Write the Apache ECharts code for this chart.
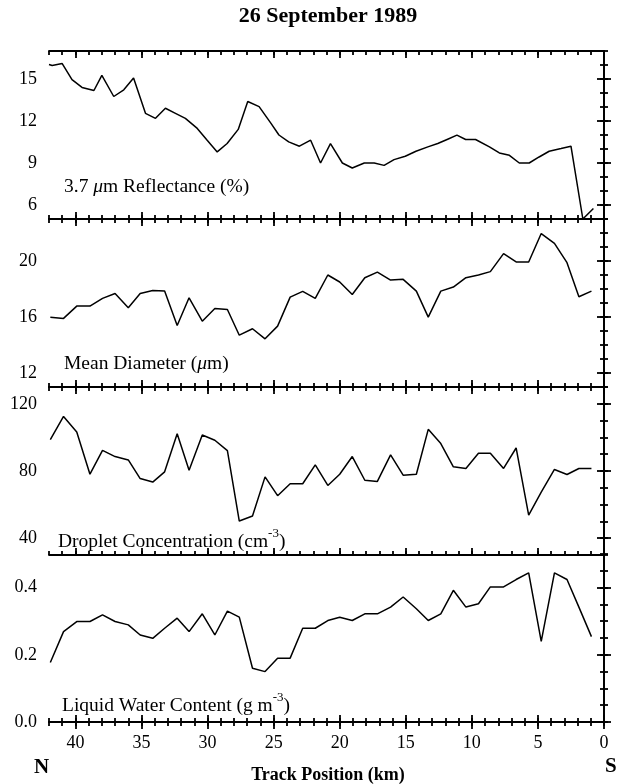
<!DOCTYPE html>
<html>
<head>
<meta charset="utf-8">
<script src="https://cdn.jsdelivr.net/npm/echarts@6/dist/echarts.min.js"></script>
<style>
html,body{margin:0;padding:0;background:#fff;}
#chart{width:625px;height:784px;}
</style>
</head>
<body>
<div id="chart"></div>
<script>
// ---- Data ----
const titleText = '26 September 1989';
const xAxisTitle = 'Track Position (km)';
const xTickValues = [40, 35, 30, 25, 20, 15, 10, 5, 0];

// 3.7 um reflectance track (radiometer sampling)
const reflKm = [42.0, 41.76, 41.0, 40.26, 39.5, 38.6, 38.0, 37.1, 36.34, 35.6, 34.7, 33.94, 33.19, 32.43, 31.68, 30.78, 30.03, 29.27, 28.52, 27.68, 26.96, 26.1, 25.2, 24.6, 23.86, 23.05, 22.2, 21.45, 20.7, 19.8, 19.05, 18.14, 17.39, 16.64, 15.89, 15.04, 14.23, 13.33, 12.58, 11.83, 11.13, 10.47, 9.72, 8.67, 7.92, 7.16, 6.41, 5.66, 4.91, 4.15, 3.25, 2.5, 1.6, 0.8];
const reflVal = [16.03, 15.96, 16.1, 14.95, 14.4, 14.18, 15.26, 13.75, 14.23, 15.07, 12.55, 12.19, 12.91, 12.55, 12.19, 11.47, 10.63, 9.79, 10.39, 11.4, 13.39, 13.03, 11.83, 11.0, 10.51, 10.2, 10.63, 9.0, 10.39, 9.0, 8.64, 9.0, 9.0, 8.83, 9.24, 9.48, 9.84, 10.15, 10.39, 10.7, 10.99, 10.68, 10.68, 10.15, 9.72, 9.55, 9.0, 9.0, 9.43, 9.84, 10.03, 10.2, 5.0, 5.75];

// in situ probe track
const probeKm = [41.9, 40.9, 39.9, 38.9, 37.95, 37.0, 36.0, 35.1, 34.15, 33.25, 32.3, 31.4, 30.4, 29.45, 28.5, 27.6, 26.6, 25.65, 24.7, 23.75, 22.8, 21.85, 20.9, 20.0, 19.05, 18.1, 17.15, 16.15, 15.2, 14.2, 13.3, 12.35, 11.4, 10.45, 9.5, 8.6, 7.6, 6.65, 5.7, 4.75, 3.75, 2.8, 1.9, 0.95];
const diamVal = [15.99, 15.9, 16.78, 16.78, 17.33, 17.68, 16.66, 17.68, 17.9, 17.85, 15.39, 17.37, 15.7, 16.61, 16.54, 14.7, 15.16, 14.44, 15.35, 17.42, 17.83, 17.33, 19.0, 18.5, 17.61, 18.8, 19.21, 18.64, 18.69, 17.85, 15.99, 17.85, 18.14, 18.81, 19.0, 19.24, 20.53, 19.93, 19.93, 21.96, 21.26, 19.88, 17.45, 17.85];
const concVal = [98.7, 112.5, 103.2, 78.1, 92.3, 88.6, 86.6, 75.5, 73.4, 79.5, 102.2, 80.5, 101.4, 98.3, 92.1, 50.2, 53.2, 76.5, 65.3, 72.4, 72.4, 83.6, 71.4, 78.1, 88.6, 74.5, 73.8, 89.6, 77.5, 78.1, 104.8, 96.3, 82.5, 81.5, 90.6, 90.6, 81.5, 93.7, 53.8, 67.4, 80.9, 77.9, 81.5, 81.5];
const lwcVal = [0.177, 0.269, 0.299, 0.299, 0.319, 0.299, 0.289, 0.259, 0.249, 0.279, 0.309, 0.269, 0.322, 0.259, 0.33, 0.312, 0.16, 0.15, 0.19, 0.19, 0.279, 0.279, 0.302, 0.312, 0.302, 0.322, 0.322, 0.342, 0.372, 0.337, 0.302, 0.322, 0.392, 0.342, 0.352, 0.402, 0.402, 0.424, 0.444, 0.24, 0.444, 0.424, 0.342, 0.254];

const reflTicks = [6, 9, 12, 15];
const diamTicks = [12, 16, 20];
const concTicks = [40, 80, 120];
const lwcTicks = [0, 0.2, 0.4];

// ---- Layout ----
const FONT = 'Liberation Serif';
const GL = 49, GR = 21, GH = 168;
const tops = [51, 219, 387, 554];
const CX = 328;
const panels = [
  {xs: reflKm, ys: reflVal, min: 5, max: 17, major: reflTicks, step: 1, dec: 0,
   label: [{t: '3.7 ', s: 'a'}, {t: 'μ', s: 'i'}, {t: 'm Reflectance (%)', s: 'a'}], ly: 189},
  {xs: probeKm, ys: diamVal, min: 11, max: 23, major: diamTicks, step: 1, dec: 0,
   label: [{t: 'Mean Diameter (', s: 'a'}, {t: 'μ', s: 'i'}, {t: 'm)', s: 'a'}], ly: 366},
  {xs: probeKm, ys: concVal, min: 30, max: 130, major: concTicks, step: 10, dec: 0,
   label: [{t: 'Droplet Concentration (cm', s: 'a'}, {t: '-3', s: 's'}, {t: ')', s: 'a'}], ly: 539, lx: 58},
  {xs: probeKm, ys: lwcVal, min: 0, max: 0.5, major: lwcTicks, step: 0.05, dec: 1,
   label: [{t: 'Liquid Water Content (g m', s: 'a'}, {t: '-3', s: 's'}, {t: ')', s: 'a'}], ly: 703, lx: 62}
];

function range(a, b, s) {
  const out = []; const n = Math.round((b - a) / s);
  for (let i = 0; i <= n; i++) out.push(+(a + i * s).toFixed(4));
  return out;
}
const xMinor = range(0, 42, 1);

const lineStyle = {color: '#000', width: 1.8};
const grids = [], xAxes = [], yAxes = [], series = [], graphics = [];

panels.forEach((p, i) => {
  grids.push({left: GL, right: GR, top: tops[i], height: GH, outerBoundsMode: 'none', containLabel: false});
  const xBase = {type: 'value', gridIndex: i, min: 0, max: 42, inverse: true, splitLine: {show: false}};
  xAxes.push(Object.assign({}, xBase, {
    position: 'bottom',
    axisLine: {show: true, lineStyle},
    axisTick: {show: true, inside: true, length: 7, customValues: xTickValues, lineStyle},
    axisLabel: {show: i === 3, customValues: xTickValues, margin: 12, color: '#000', fontFamily: FONT, fontSize: 18}
  }));
  xAxes.push(Object.assign({}, xBase, {
    position: 'bottom',
    axisLine: {show: false},
    axisTick: {show: true, inside: true, length: 4, customValues: xMinor, lineStyle},
    axisLabel: {show: false}
  }));
  xAxes.push(Object.assign({}, xBase, {
    position: 'top',
    axisLine: {show: true, lineStyle},
    axisTick: {show: true, inside: true, length: 7, customValues: xTickValues, lineStyle},
    axisLabel: {show: false}
  }));
  xAxes.push(Object.assign({}, xBase, {
    position: 'top',
    axisLine: {show: false},
    axisTick: {show: true, inside: true, length: 4, customValues: xMinor, lineStyle},
    axisLabel: {show: false}
  }));

  const minorY = range(p.min, p.max, p.step);
  const yBase = {type: 'value', gridIndex: i, min: p.min, max: p.max, splitLine: {show: false}};
  yAxes.push(Object.assign({}, yBase, {
    position: 'left',
    axisLine: {show: true, lineStyle},
    axisTick: {show: true, inside: true, length: 7, customValues: p.major, lineStyle},
    axisLabel: {show: true, customValues: p.major, margin: 12, color: '#000', fontFamily: FONT, fontSize: 18,
      formatter: v => Number(v).toFixed(p.dec)}
  }));
  yAxes.push(Object.assign({}, yBase, {
    position: 'left',
    axisLine: {show: false},
    axisTick: {show: true, inside: true, length: 4, customValues: minorY, lineStyle},
    axisLabel: {show: false}
  }));
  yAxes.push(Object.assign({}, yBase, {
    position: 'right',
    axisLine: {show: true, lineStyle},
    axisTick: {show: true, inside: true, length: 7, customValues: p.major, lineStyle},
    axisLabel: {show: false}
  }));
  yAxes.push(Object.assign({}, yBase, {
    position: 'right',
    axisLine: {show: false},
    axisTick: {show: true, inside: true, length: 4, customValues: minorY, lineStyle},
    axisLabel: {show: false}
  }));

  series.push({
    type: 'line', xAxisIndex: 4 * i, yAxisIndex: 4 * i,
    data: p.xs.map((x, k) => [x, p.ys[k]]),
    showSymbol: false, symbol: 'none', animation: false, clip: true,
    lineStyle: {color: '#000', width: 1.5}
  });

  graphics.push({
    type: 'text', left: p.lx || 64, top: p.ly - 12, z: 10,
    style: {
      text: p.label.map(seg => '{' + seg.s + '|' + seg.t + '}').join(''),
      rich: {
        a: {fontFamily: FONT, fontSize: 19.5, fill: '#000'},
        i: {fontFamily: FONT, fontSize: 19.5, fontStyle: 'italic', fill: '#000'},
        s: {fontFamily: FONT, fontSize: 13, fill: '#000', padding: [0, 0, 16, 0]}
      }
    }
  });
});

graphics.push({type: 'text', x: CX, y: 16, style: {text: titleText, fontFamily: FONT, fontSize: 22, fontWeight: 'bold', fill: '#000', align: 'center', verticalAlign: 'middle'}});
graphics.push({type: 'text', x: CX, y: 775, style: {text: xAxisTitle, fontFamily: FONT, fontSize: 18, fontWeight: 'bold', fill: '#000', align: 'center', verticalAlign: 'middle'}});
graphics.push({type: 'text', left: 34, top: 757, style: {text: 'N', fontFamily: FONT, fontSize: 21, fontWeight: 'bold', fill: '#000'}});
graphics.push({type: 'text', left: 605, top: 756, style: {text: 'S', fontFamily: FONT, fontSize: 21, fontWeight: 'bold', fill: '#000'}});

const chart = echarts.init(document.getElementById('chart'), null, {renderer: 'canvas'});
chart.setOption({
  backgroundColor: '#fff',
  animation: false,
  grid: grids,
  xAxis: xAxes,
  yAxis: yAxes,
  series: series,
  graphic: graphics
});
</script>
</body>
</html>
